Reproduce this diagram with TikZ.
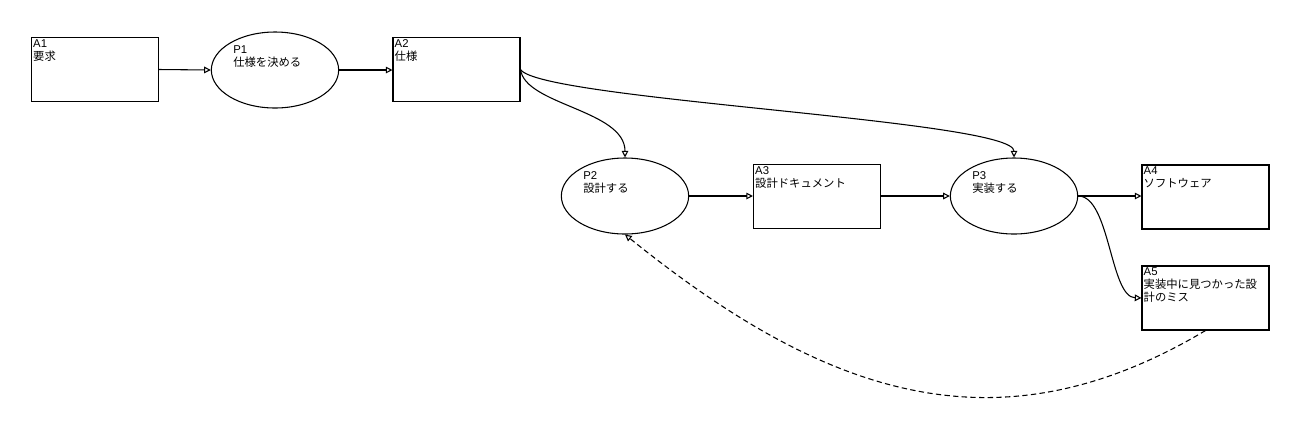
\documentclass[tikz,border=0pt]{standalone}
\usepackage{fontspec}
\setmainfont{Liberation Sans}
\newfontfamily\jpfont{Noto Sans CJK JP}
\usetikzlibrary{arrows.meta,shapes.geometric}

\tikzset{
  databox/.style={draw, line width=0.8pt, minimum width=95.25pt, minimum height=48pt, inner sep=0pt},
  procell/.style={draw, ellipse, line width=0.8pt, minimum width=95.5pt, minimum height=57pt, inner sep=0pt},
  boxtag/.style={anchor=north west, align=left, inner sep=0pt, xshift=1.5pt, yshift=-1.5pt,
    font=\fontsize{8.5pt}{9.75pt}\selectfont},
  celltag/.style={anchor=north west, align=left, inner sep=0pt, xshift=-31.5pt, yshift=18.5pt,
    font=\fontsize{8.5pt}{9.75pt}\selectfont},
  flow/.style={line width=0.8pt, -{Triangle[open,length=5pt,width=5pt]}},
  backflow/.style={flow, dash pattern=on 4pt off 2.5pt},
}

\begin{document}
\begin{tikzpicture}[x=0.75pt,y=-0.75pt]

\useasboundingbox (0,0) rectangle (1300,430);

%Drawing artefacts
\node[databox] (A1) at (95,69.5) {};
\node[databox] (A2) at (456.5,69.5) {};
\node[databox] (A3) at (817,196.5) {};
\node[databox] (A4) at (1205.5,197) {};
\node[databox] (A5) at (1205.5,298) {};

\node[boxtag] (A1t) at (A1.north west) {A1\\{\jpfont 要求}};
\node[boxtag] (A2t) at (A2.north west) {A2\\{\jpfont 仕様}};
\node[boxtag] (A3t) at (A3.north west) {A3\\{\jpfont 設計ドキュメント}};
\node[boxtag] (A4t) at (A4.north west) {A4\\{\jpfont ソフトウェア}};
\node[boxtag] (A5t) at (A5.north west) {A5\\{\jpfont 実装中に見つかった設}\\{\jpfont 計のミス}};

%Drawing processes
\node[procell] (P1) at (275,70) {};
\node[procell] (P2) at (625,196) {};
\node[procell] (P3) at (1014,196) {};

\node[celltag] (P1t) at (P1.center) {P1\\{\jpfont 仕様を決める}};
\node[celltag] (P2t) at (P2.center) {P2\\{\jpfont 設計する}};
\node[celltag] (P3t) at (P3.center) {P3\\{\jpfont 実装する}};

%connecting them
\draw[flow] (A1.east) -- (P1.west);
\draw[flow] (P1.east) -- (P1.east -| A2.west);
\draw[flow] (A2.east) .. controls (525,105) and (625,110) .. (P2.north);
\draw[flow] (A2.east) .. controls (540,100) and (1014,120) .. (P3.north);
\draw[flow] (P2.east) -- (P2.east -| A3.west);
\draw[flow] (A3.east) -- (A3.east |- P3.west) -- (P3.west);
\draw[flow] (P3.east) -- (P3.east -| A4.west);
\draw[flow] (P3.east) .. controls (1110,196) and (1110,297) .. (A5.west);

%feedback of design mistakes
\draw[backflow] (A5.south) .. controls (1000,453) and (829,399) .. (P2.south);

\end{tikzpicture}
\end{document}
